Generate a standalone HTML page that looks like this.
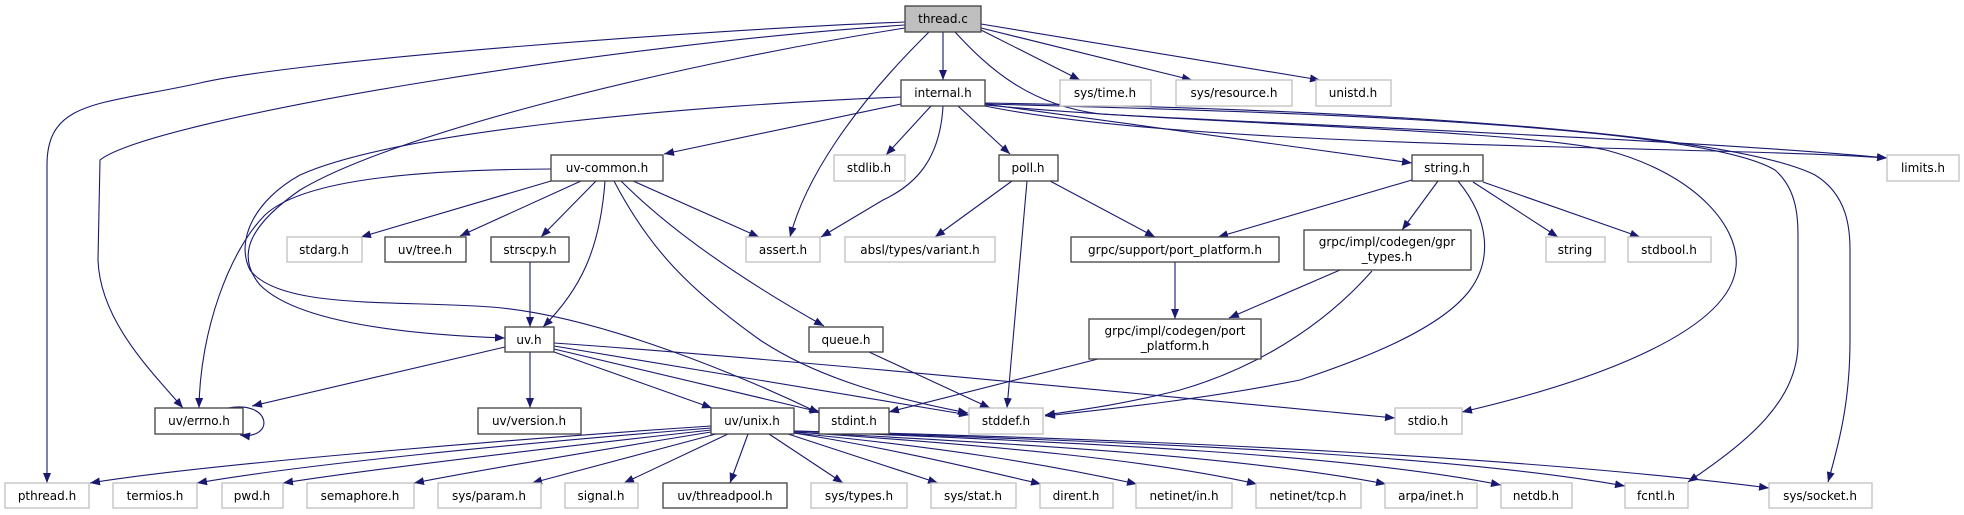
<!DOCTYPE html>
<html><head><meta charset="utf-8"><style>
html,body{margin:0;padding:0;background:#fff;}
svg{display:block;}
text{font-family:"DejaVu Sans","Liberation Sans",sans-serif;font-size:12px;fill:#000;text-anchor:middle;}
.e{fill:none;stroke:#191970;stroke-width:1.1;marker-end:url(#a);}
.n{fill:#fff;stroke:#404040;stroke-width:1.3;}
.g{fill:#fff;stroke:#bfbfbf;stroke-width:1.3;}
</style></head><body>
<svg width="1964" height="515" viewBox="0 0 1964 515" xmlns="http://www.w3.org/2000/svg">
<defs><marker id="a" markerUnits="userSpaceOnUse" markerWidth="11" markerHeight="8" refX="10" refY="4" orient="auto"><path d="M0,0 L10,4 L0,8 z" fill="#191970"/></marker></defs>
<!-- edges from thread.c -->
<path class="e" d="M943,32 L943,80"/>
<path class="e" d="M929,32 C850,110 805,180 790,237"/>
<path class="e" d="M905,22 C700,30 300,60 200,83 C100,105 47,100 47,165 L47,483"/>
<path class="e" d="M905,25 C600,45 150,120 100,160 L98,260 C100,320 150,370 183,408"/>
<path class="e" d="M905,28 C700,60 400,130 300,190 C250,225 235,255 260,285 C300,325 420,335 505,338"/>
<path class="e" d="M981,30 L1080,80"/>
<path class="e" d="M981,28 L1192,80"/>
<path class="e" d="M981,24 L1320,80"/>
<path class="e" d="M955,32 C990,70 1030,105 1100,114 C1300,125 1700,140 1887,158"/>
<!-- internal.h -->
<path class="e" d="M901,104 L664,154"/>
<path class="e" d="M901,97 C700,105 400,130 300,175 C255,200 235,240 250,270 C280,310 400,300 491,307 C600,315 750,380 819,413"/>
<path class="e" d="M931,106 L886,155"/>
<path class="e" d="M943,106 C940,160 915,185 883,200 L821,237"/>
<path class="e" d="M958,106 L1010,154"/>
<path class="e" d="M985,104 L1412,163"/>
<path class="e" d="M985,106 C1200,150 1700,145 1887,158"/>
<path class="e" d="M985,105 C1200,125 1500,128 1606,150 C1700,175 1740,230 1736,267 C1730,330 1600,380 1462,412"/>
<path class="e" d="M985,104 C1300,112 1700,125 1775,170 C1798,190 1798,220 1798,240 L1798,343 C1798,400 1750,440 1688,482"/>
<path class="e" d="M985,103 C1300,108 1720,128 1815,175 C1848,195 1850,230 1850,250 L1850,340 C1850,400 1840,440 1828,482"/>
<!-- uv-common.h -->
<path class="e" d="M551,169 C400,170 300,182 265,215 C230,250 200,330 199,408"/>
<path class="e" d="M551,181 L361,237"/>
<path class="e" d="M581,181 L460,236"/>
<path class="e" d="M596,181 L541,237"/>
<path class="e" d="M605,181 C600,250 580,290 543,327"/>
<path class="e" d="M614,181 C650,250 690,290 760,340 C820,380 900,400 968,413"/>
<path class="e" d="M621,181 C680,240 760,290 824,326"/>
<path class="e" d="M633,181 L759,237"/>
<!-- strscpy -->
<path class="e" d="M530,262 L530,327"/>
<!-- uv.h -->
<path class="e" d="M530,352 L530,408"/>
<path class="e" d="M505,347 L252,406"/>
<path class="e" d="M554,352 L712,408"/>
<path class="e" d="M554,349 L820,412"/>
<path class="e" d="M554,346 L969,415"/>
<path class="e" d="M554,343 C800,360 1200,400 1395,418"/>
<!-- errno self loop -->
<path class="e" d="M228,408 C272,400 275,440 240,435"/>
<!-- queue -->
<path class="e" d="M869,352 L990,408"/>
<!-- grpc impl port_platform -->
<path class="e" d="M1098,359 L889,412"/>
<!-- poll.h -->
<path class="e" d="M1012,181 L935,237"/>
<path class="e" d="M1027,181 L1007,408"/>
<path class="e" d="M1050,181 L1155,237"/>
<!-- string.h -->
<path class="e" d="M1412,180 L1218,237"/>
<path class="e" d="M1438,181 L1402,230"/>
<path class="e" d="M1458,181 C1490,220 1492,260 1470,290 C1440,330 1360,360 1300,380 C1200,400 1100,410 1045,416"/>
<path class="e" d="M1473,182 L1558,237"/>
<path class="e" d="M1483,182 L1640,237"/>
<!-- grpc support -->
<path class="e" d="M1175,262 L1175,319"/>
<!-- gpr_types -->
<path class="e" d="M1340,270 L1229,318"/>
<path class="e" d="M1372,271 C1320,330 1250,370 1180,390 C1120,405 1080,410 1045,415"/>
<!-- uv/unix.h -->
<path class="e" d="M711,426 C500,440 200,465 90,483"/>
<path class="e" d="M711,428 C500,445 300,465 197,483"/>
<path class="e" d="M711,430 C550,448 380,468 283,483"/>
<path class="e" d="M711,432 C600,450 480,470 414,483"/>
<path class="e" d="M716,434 L532,483"/>
<path class="e" d="M728,434 L624,483"/>
<path class="e" d="M748,434 L730,483"/>
<path class="e" d="M769,434 L843,483"/>
<path class="e" d="M788,434 L938,483"/>
<path class="e" d="M794,433 C900,450 980,470 1041,484"/>
<path class="e" d="M794,433 C950,448 1050,465 1137,484"/>
<path class="e" d="M794,432 C1000,446 1150,460 1257,484"/>
<path class="e" d="M794,432 C1050,445 1250,458 1386,484"/>
<path class="e" d="M794,431 C1100,443 1350,455 1501,485"/>
<path class="e" d="M794,431 C1150,442 1450,455 1625,486"/>
<path class="e" d="M794,431 C1200,440 1550,460 1769,488"/>
<!-- nodes -->
<rect x="905" y="6" width="76" height="26" fill="#bfbfbf" stroke="#404040" stroke-width="1.3"/><text x="943" y="23">thread.c</text>
<rect class="n" x="901" y="80" width="84" height="26"/><text x="943" y="97">internal.h</text>
<rect class="g" x="1060" y="80" width="91" height="26"/><text x="1105" y="97">sys/time.h</text>
<rect class="g" x="1176" y="80" width="116" height="26"/><text x="1234" y="97">sys/resource.h</text>
<rect class="g" x="1316" y="80" width="75" height="26"/><text x="1353" y="97">unistd.h</text>
<rect class="n" x="551" y="155" width="112" height="26"/><text x="607" y="172">uv-common.h</text>
<rect class="g" x="834" y="155" width="71" height="26"/><text x="869" y="172">stdlib.h</text>
<rect class="n" x="999" y="155" width="59" height="26"/><text x="1028" y="172">poll.h</text>
<rect class="n" x="1412" y="155" width="71" height="26"/><text x="1447" y="172">string.h</text>
<rect class="g" x="1887" y="155" width="72" height="26"/><text x="1923" y="172">limits.h</text>
<rect class="g" x="287" y="237" width="75" height="25"/><text x="324" y="254">stdarg.h</text>
<rect class="n" x="385" y="237" width="81" height="25"/><text x="425" y="254">uv/tree.h</text>
<rect class="n" x="491" y="237" width="78" height="25"/><text x="530" y="254">strscpy.h</text>
<rect class="g" x="746" y="237" width="74" height="25"/><text x="783" y="254">assert.h</text>
<rect class="g" x="845" y="237" width="150" height="25"/><text x="920" y="254">absl/types/variant.h</text>
<rect class="n" x="1071" y="237" width="208" height="25"/><text x="1175" y="254">grpc/support/port_platform.h</text>
<rect class="n" x="1304" y="230" width="167" height="40"/><text x="1387" y="246">grpc/impl/codegen/gpr</text><text x="1387" y="261">_types.h</text>
<rect class="g" x="1546" y="237" width="59" height="25"/><text x="1575" y="254">string</text>
<rect class="g" x="1628" y="237" width="83" height="25"/><text x="1669" y="254">stdbool.h</text>
<rect class="n" x="505" y="327" width="49" height="25"/><text x="529" y="344">uv.h</text>
<rect class="n" x="809" y="327" width="74" height="25"/><text x="846" y="344">queue.h</text>
<rect class="n" x="1089" y="319" width="172" height="40"/><text x="1175" y="335">grpc/impl/codegen/port</text><text x="1175" y="350">_platform.h</text>
<rect class="n" x="155" y="408" width="88" height="26"/><text x="199" y="425">uv/errno.h</text>
<rect class="n" x="478" y="408" width="103" height="26"/><text x="529" y="425">uv/version.h</text>
<rect class="n" x="711" y="408" width="83" height="26"/><text x="752" y="425">uv/unix.h</text>
<rect class="n" x="819" y="408" width="70" height="26"/><text x="854" y="425">stdint.h</text>
<rect class="g" x="969" y="408" width="74" height="26"/><text x="1006" y="425">stddef.h</text>
<rect class="g" x="1395" y="408" width="67" height="26"/><text x="1428" y="425">stdio.h</text>
<rect class="g" x="5" y="483" width="84" height="25"/><text x="47" y="500">pthread.h</text>
<rect class="g" x="113" y="483" width="84" height="25"/><text x="155" y="500">termios.h</text>
<rect class="g" x="222" y="483" width="61" height="25"/><text x="252" y="500">pwd.h</text>
<rect class="g" x="307" y="483" width="107" height="25"/><text x="360" y="500">semaphore.h</text>
<rect class="g" x="438" y="483" width="103" height="25"/><text x="489" y="500">sys/param.h</text>
<rect class="g" x="565" y="483" width="73" height="25"/><text x="601" y="500">signal.h</text>
<rect class="n" x="663" y="483" width="124" height="25"/><text x="725" y="500">uv/threadpool.h</text>
<rect class="g" x="811" y="483" width="96" height="25"/><text x="859" y="500">sys/types.h</text>
<rect class="g" x="931" y="483" width="85" height="25"/><text x="973" y="500">sys/stat.h</text>
<rect class="g" x="1040" y="483" width="73" height="25"/><text x="1076" y="500">dirent.h</text>
<rect class="g" x="1136" y="483" width="96" height="25"/><text x="1184" y="500">netinet/in.h</text>
<rect class="g" x="1256" y="483" width="105" height="25"/><text x="1308" y="500">netinet/tcp.h</text>
<rect class="g" x="1385" y="483" width="92" height="25"/><text x="1431" y="500">arpa/inet.h</text>
<rect class="g" x="1501" y="483" width="71" height="25"/><text x="1536" y="500">netdb.h</text>
<rect class="g" x="1625" y="483" width="63" height="25"/><text x="1656" y="500">fcntl.h</text>
<rect class="g" x="1769" y="483" width="103" height="25"/><text x="1820" y="500">sys/socket.h</text>
</svg>
</body></html>
